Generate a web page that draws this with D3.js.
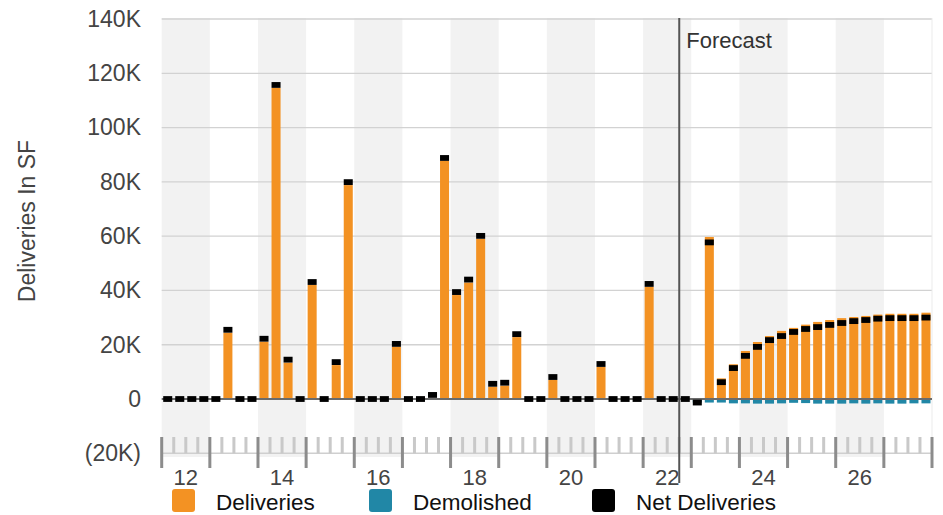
<!DOCTYPE html>
<html>
<head>
<meta charset="utf-8">
<script src="https://cdn.jsdelivr.net/npm/d3@7"></script>
<style>
  body { margin: 0; background: #fff; }
  svg { display: block; font-family: "Liberation Sans", Arial, sans-serif; }
</style>
</head>
<body>
<svg width="943" height="515"></svg>
<script>
// years on the axis, every other one gets a label
const years = [2012, 2013, 2014, 2015, 2016, 2017, 2018, 2019, 2020, 2021, 2022, 2023, 2024, 2025, 2026, 2027];
const yearLabels = ["12", "14", "16", "18", "20", "22", "24", "26"];
const labelYears = [2012, 2014, 2016, 2018, 2020, 2022, 2024, 2026];
const quarters = years.flatMap(y => ["Q1", "Q2", "Q3", "Q4"].map(q => y + " " + q));
const forecastStart = "2022 Q4";

// values in SF, one per quarter (2012 Q1 .. 2027 Q4)
const deliveries = [
  0, 0, 0, 0,            0, 24400, 0, 0,
  21100, 114600, 13400, 0,   42000, 0, 12500, 78800,
  0, 0, 0, 19200,        0, 0, 400, 87700,
  38300, 42900, 59000, 4500,  4900, 22800, 0, 0,
  7000, 0, 0, 0,         11800, 0, 0, 0,
  41300, 0, 0, 0,        0, 59700, 7600, 12800,
  17700, 21000, 23200, 25100, 26200, 27400, 28400, 29100,
  29800, 30200, 30600, 31100, 31400, 31400, 31400, 31800
];
const demolished = [
  0, 0, 0, 0, 0, 0, 0, 0,
  0, 0, 0, 0, 0, 0, 0, 0,
  0, 0, 0, 0, 0, 0, 0, 0,
  0, 0, 0, 0, 0, 0, 0, 0,
  0, 0, 0, 0, 0, 0, 0, 0,
  0, 0, 0, 0, -1300, -1300, -1300, -1600,
  -1600, -1700, -1700, -1600, -1400, -1500, -1700, -1700,
  -1700, -1600, -1700, -1600, -1700, -1700, -1600, -1600
];
const netDeliveries = [
  0, 0, 0, 0,            0, 25500, 0, 0,
  22200, 115700, 14500, 0,   43100, 0, 13600, 79900,
  0, 0, 0, 20300,        0, 0, 1500, 88800,
  39400, 44000, 60100, 5600,  6000, 23900, 0, 0,
  8100, 0, 0, 0,         12900, 0, 0, 0,
  42400, 0, 0, 0,        -1300, 57700, 6200, 11400,
  15900, 19200, 21700, 23200, 24700, 25800, 26500, 27300,
  28000, 28700, 29100, 29600, 29800, 29800, 29800, 30000
];
const yTicks = [-20000, 0, 20000, 40000, 60000, 80000, 100000, 120000, 140000];

const legendItems = [
  { label: "Deliveries", color: "#f39223" },
  { label: "Demolished", color: "#2187a6" },
  { label: "Net Deliveries", color: "#000000" }
];

const svg = d3.select("svg");
const left = 161.7, right = 932;

const x = d3.scaleBand().domain(quarters).range([left, right])
  .paddingInner(0.25).paddingOuter(0.125);
const yearX = d3.scaleLinear().domain([2012, 2028]).range([left, right]);
const y = d3.scaleLinear().domain([-20000, 140000]).range([453.3, 19]);

const fmt = v => v < 0 ? "(" + Math.abs(v / 1000) + "K)" : (v === 0 ? "0" : v / 1000 + "K");

// полосы по годам
svg.append("g").selectAll("rect")
  .data(years.filter(yr => yr % 2 === 0))
  .join("rect")
  .attr("x", d => yearX(d))
  .attr("width", d => yearX(d + 1) - yearX(d))
  .attr("y", 18)
  .attr("height", 457 - 18)
  .attr("fill", "#f2f2f2");

// сетка
svg.append("g").selectAll("line")
  .data(yTicks.filter(v => v > 0))
  .join("line")
  .attr("x1", left).attr("x2", right)
  .attr("y1", d => y(d)).attr("y2", d => y(d))
  .attr("stroke", "#d2d2d2").attr("stroke-width", 1.3);

svg.append("line")
  .attr("x1", right).attr("x2", right).attr("y1", 18).attr("y2", 457)
  .attr("stroke", "#ebebeb").attr("stroke-width", 1);

// y axis labels
const yAxis = svg.append("g")
  .attr("transform", `translate(141,0)`)
  .call(d3.axisLeft(y).tickValues(yTicks).tickSize(0).tickPadding(0).tickFormat(fmt));
yAxis.select(".domain").remove();
yAxis.selectAll("text")
  .attr("font-size", 23)
  .attr("fill", "#444")
  .attr("font-family", "Liberation Sans, Arial, sans-serif");

svg.append("text")
  .attr("transform", "translate(35,221) rotate(-90)")
  .attr("text-anchor", "middle")
  .attr("font-size", 23)
  .attr("fill", "#444")
  .text("Deliveries In SF");

// bottom axis at -20K
const axisY = y(-20000);
svg.append("line")
  .attr("x1", left).attr("x2", right).attr("y1", axisY).attr("y2", axisY)
  .attr("stroke", "#cfcfcf").attr("stroke-width", 1.5);

const minor = [];
years.forEach(yr => [0.25, 0.5, 0.75].forEach(f => minor.push(yr + f)));
svg.append("g").selectAll("line")
  .data(minor)
  .join("line")
  .attr("x1", d => yearX(d)).attr("x2", d => yearX(d))
  .attr("y1", 437).attr("y2", axisY)
  .attr("stroke", "#c9c9c9").attr("stroke-width", 3);

svg.append("g").selectAll("line")
  .data(d3.range(2012, 2029))
  .join("line")
  .attr("x1", d => yearX(d)).attr("x2", d => yearX(d))
  .attr("y1", 437).attr("y2", 468)
  .attr("stroke", "#8c8c8c").attr("stroke-width", 3);

svg.append("g").selectAll("text")
  .data(labelYears)
  .join("text")
  .attr("x", d => yearX(d + 0.5))
  .attr("y", 484.5)
  .attr("text-anchor", "middle")
  .attr("font-size", 22)
  .attr("fill", "#444")
  .text((d, i) => yearLabels[i]);

// bars
const bw = x.bandwidth();
svg.append("g").selectAll("rect")
  .data(quarters.map((q, i) => ({ q, v: deliveries[i] })).filter(d => d.v > 0))
  .join("rect")
  .attr("x", d => x(d.q))
  .attr("width", bw)
  .attr("y", d => y(d.v))
  .attr("height", d => y(0) - y(d.v))
  .attr("fill", legendItems[0].color);

svg.append("g").selectAll("rect")
  .data(quarters.map((q, i) => ({ q, v: demolished[i] })).filter(d => d.v < 0))
  .join("rect")
  .attr("x", d => x(d.q))
  .attr("width", bw)
  .attr("y", y(0))
  .attr("height", d => y(d.v) - y(0))
  .attr("fill", legendItems[1].color);

// baseline
svg.append("line")
  .attr("x1", left).attr("x2", right).attr("y1", y(0)).attr("y2", y(0))
  .attr("stroke", "#6b6b6b").attr("stroke-width", 2.2);

// net deliveries marker
const mh = 5.8;
svg.append("g").selectAll("rect")
  .data(quarters.map((q, i) => ({ q, v: netDeliveries[i] })))
  .join("rect")
  .attr("x", d => x(d.q))
  .attr("width", bw)
  .attr("y", d => y(d.v) - mh / 2)
  .attr("height", mh)
  .attr("fill", legendItems[2].color);

// forecast line
const fx = x(forecastStart) - (x.step() - bw) / 2;
svg.append("line")
  .attr("x1", fx).attr("x2", fx).attr("y1", 18).attr("y2", 483)
  .attr("stroke", "#555").attr("stroke-width", 2);
svg.append("text")
  .attr("x", fx + 7).attr("y", 48)
  .attr("font-size", 22)
  .attr("fill", "#333")
  .text("Forecast");

// legend
const legendPos = [172, 369, 592];
const lg = svg.append("g").selectAll("g")
  .data(legendItems)
  .join("g")
  .attr("transform", (d, i) => `translate(${legendPos[i]},489)`);
lg.append("rect")
  .attr("width", 23).attr("height", 23).attr("rx", 3)
  .attr("fill", d => d.color);
lg.append("text")
  .attr("x", 44).attr("y", 21)
  .attr("font-size", 22.5)
  .attr("fill", "#111")
  .text(d => d.label);
</script>
</body>
</html>
